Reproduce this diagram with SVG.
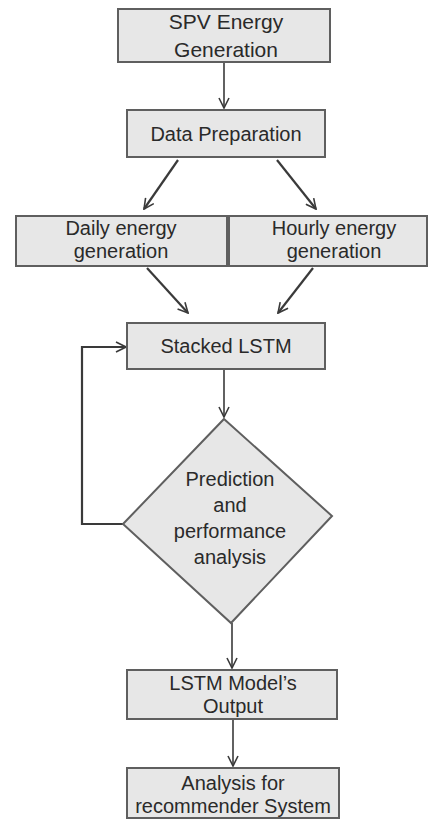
<svg xmlns="http://www.w3.org/2000/svg" width="428" height="820" viewBox="0 0 428 820">
<defs>
<marker id="ah" viewBox="0 0 12 12" refX="11" refY="6" markerWidth="12" markerHeight="12" markerUnits="userSpaceOnUse" orient="auto">
<path d="M1,1 L11,6 L1,11" fill="none" stroke="#3a3a3a" stroke-width="1.6"/>
</marker>
</defs>
<style>
.box{fill:#e7e7e7;stroke:#5f5f5f;stroke-width:2}
.t{font-family:"Liberation Sans","Noto Sans",sans-serif;font-size:20px;fill:#2a2a2a;text-anchor:middle}
.big{font-size:21px}
.c{fill:none;stroke:#3a3a3a;stroke-width:1.6}
.thick{stroke-width:2.2}
</style>
<rect width="428" height="820" fill="#fff"/>
<g id="connectors">
<line class="c" x1="224" y1="63" x2="224" y2="108" marker-end="url(#ah)"/>
<line class="c thick" x1="178" y1="160" x2="144" y2="209" marker-end="url(#ah)"/>
<line class="c thick" x1="277" y1="160" x2="316" y2="209" marker-end="url(#ah)"/>
<line class="c thick" x1="147" y1="268" x2="188" y2="313" marker-end="url(#ah)"/>
<line class="c thick" x1="313" y1="268" x2="278" y2="313" marker-end="url(#ah)"/>
<line class="c" x1="224" y1="370" x2="224" y2="417" marker-end="url(#ah)"/>
<polyline class="c thick" points="123,524 82,524 82,347 126,347" marker-end="url(#ah)"/>
<line class="c" x1="232" y1="623" x2="232" y2="668" marker-end="url(#ah)"/>
<line class="c" x1="233" y1="720" x2="233" y2="766" marker-end="url(#ah)"/>
</g>
<g id="spv">
<rect class="box" x="118" y="9" width="212" height="53"/>
<text class="t big" x="226" y="29">SPV Energy</text>
<text class="t big" x="226" y="57">Generation</text>
</g>
<g id="prep">
<rect class="box" x="127" y="110" width="198" height="47"/>
<text class="t" x="226" y="141">Data Preparation</text>
</g>
<g id="daily">
<rect class="box" x="16" y="216" width="211" height="50"/>
<text class="t" x="121" y="235">Daily energy</text>
<text class="t" x="121" y="258">generation</text>
</g>
<g id="hourly">
<rect class="box" x="229" y="216" width="198" height="50"/>
<text class="t" x="334" y="235">Hourly energy</text>
<text class="t" x="334" y="258">generation</text>
</g>
<g id="stacked">
<rect class="box" x="127" y="323" width="198" height="46"/>
<text class="t" x="226" y="353">Stacked LSTM</text>
</g>
<g id="prediction">
<polygon class="box" points="224,419 332,516 231,623 123,524"/>
<text class="t" x="230" y="486">Prediction</text>
<text class="t" x="230" y="512">and</text>
<text class="t" x="230" y="538">performance</text>
<text class="t" x="230" y="564">analysis</text>
</g>
<g id="output">
<rect class="box" x="127" y="670" width="210" height="49"/>
<text class="t" x="233" y="690">LSTM Model’s</text>
<text class="t" x="233" y="713">Output</text>
</g>
<g id="analysis">
<rect class="box" x="127" y="768" width="212" height="50"/>
<text class="t" x="233" y="790">Analysis for</text>
<text class="t" x="233" y="813">recommender System</text>
</g>
</svg>
